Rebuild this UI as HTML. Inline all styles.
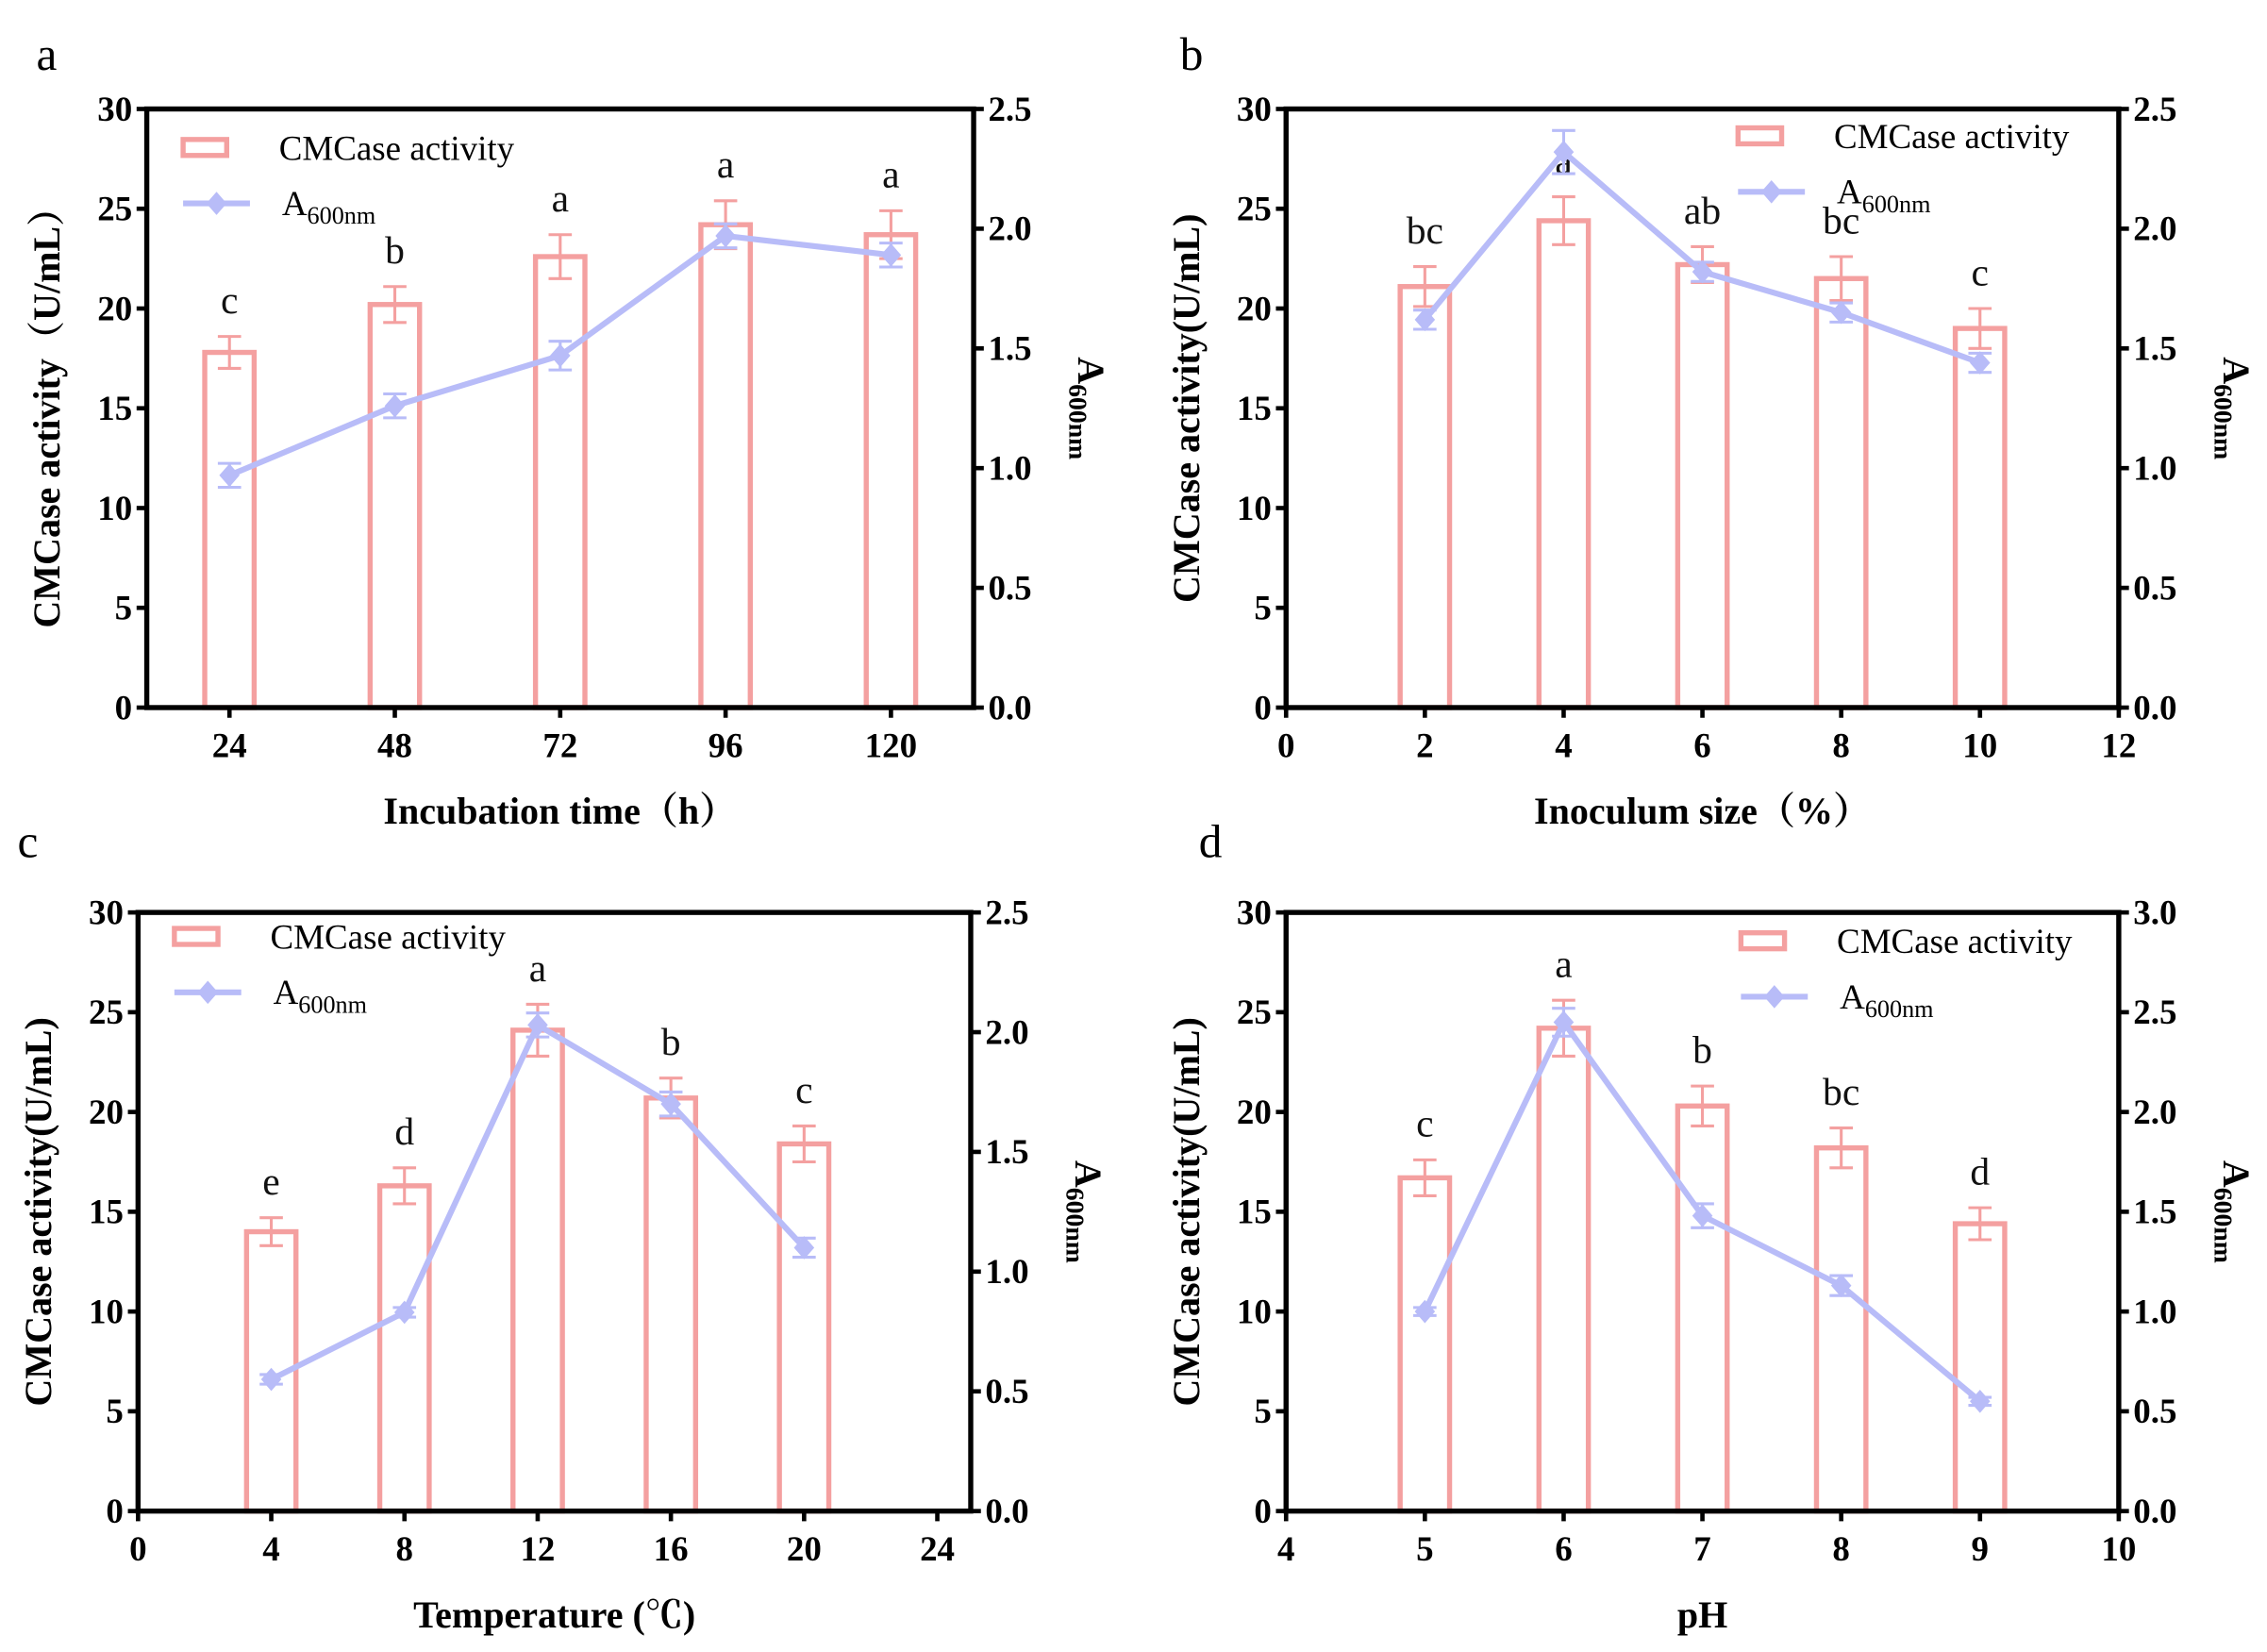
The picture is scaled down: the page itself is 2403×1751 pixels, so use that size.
<!DOCTYPE html>
<html><head><meta charset="utf-8"><style>
html,body{margin:0;padding:0;background:#fff;}
svg{display:block;font-family:"Liberation Serif","Noto Serif CJK SC",serif;}
</style></head><body>
<svg id="fig" width="2403" height="1751" viewBox="0 0 1560 1137" preserveAspectRatio="none" xmlns="http://www.w3.org/2000/svg"></svg>
<script>
// Panel a
const catsA = [24, 48, 72, 96, 120];
const barsA = [17.8, 20.2, 22.6, 24.2, 23.7];
const barErrA = [0.8, 0.9, 1.1, 1.2, 1.2];
const lineA = [0.97, 1.26, 1.47, 1.97, 1.89];
const lineErrA = [0.05, 0.05, 0.06, 0.05, 0.05];
const letA = ['c','b','a','a','a'];
// Panel b
const catsB = [2, 4, 6, 8, 10];
const barsB = [21.1, 24.4, 22.2, 21.5, 19.0];
const barErrB = [1.0, 1.2, 0.9, 1.1, 1.0];
const lineB = [1.62, 2.32, 1.82, 1.65, 1.44];
const lineErrB = [0.04, 0.09, 0.04, 0.04, 0.04];
const letB = ['bc','a','ab','bc','c'];
// Panel c
const catsC = [4, 8, 12, 16, 20];
const barsC = [14.0, 16.3, 24.1, 20.7, 18.4];
const barErrC = [0.7, 0.9, 1.3, 1.0, 0.9];
const lineC = [0.55, 0.83, 2.03, 1.70, 1.10];
const lineErrC = [0.02, 0.02, 0.05, 0.05, 0.04];
const letC = ['e','d','a','b','c'];
// Panel d
const catsD = [5, 6, 7, 8, 9];
const barsD = [16.7, 24.2, 20.3, 18.2, 14.4];
const barErrD = [0.9, 1.4, 1.0, 1.0, 0.8];
const lineD = [1.00, 2.45, 1.48, 1.13, 0.55];
const lineErrD = [0.02, 0.07, 0.06, 0.05, 0.02];
const letD = ['c','a','b','bc','d'];
const xTicksB = [0,2,4,6,8,10,12];
const xTicksC = [0,4,8,12,16,20,24];
const xTicksD = [4,5,6,7,8,9,10];
const yTicks = [0,5,10,15,20,25,30];
const rTicks25 = [0.0,0.5,1.0,1.5,2.0,2.5];
const rTicks30 = [0.0,0.5,1.0,1.5,2.0,2.5,3.0];

const NS='http://www.w3.org/2000/svg';
const svg=document.getElementById('fig');
function mk(tag,attrs,parent,txt){const e=document.createElementNS(NS,tag);for(const k in attrs)e.setAttribute(k,attrs[k]);if(txt!==undefined)e.textContent=txt;(parent||svg).appendChild(e);return e;}
const PINK='#f4a0a0', BLUE='#b8bcf8';

function panel(o){
  const g=mk('g',{});
  
  
  const {L,R,T,B}=o;
  const y=v=>B-(v/30)*(B-T);
  const yr=v=>B-(v/o.rmax)*(B-T);
  const x=o.xfun;
  o.bars.forEach((v,i)=>{
    const cx=x(o.cats[i]);
    const b=mk('rect',{x:cx-17,y:y(v),width:34,height:B-y(v),fill:'none',stroke:PINK,'stroke-width':3.5},g);
    
    
    const e=o.berr[i];
    const eb=mk('path',{d:`M${cx},${y(v+e)}V${y(v-e)}M${cx-8},${y(v+e)}H${cx+8}M${cx-8},${y(v-e)}H${cx+8}`,stroke:PINK,'stroke-width':2,fill:'none'},g);
    
    
    const lt=mk('text',{x:cx,y:y(v+e)-16,'text-anchor':'middle','font-size':27,fill:'#111'},g,o.lets[i]);
    
    
  });
  const pts=o.line.map((v,i)=>[x(o.cats[i]),yr(v)]);
  const pl=mk('polyline',{points:pts.map(p=>p.join(',')).join(' '),fill:'none',stroke:BLUE,'stroke-width':4},g);
  
  
  o.line.forEach((v,i)=>{
    const [px,py]=pts[i];const e=o.lerr[i];
    const le=mk('path',{d:`M${px},${yr(v+e)}V${yr(v-e)}M${px-8},${yr(v+e)}H${px+8}M${px-8},${yr(v-e)}H${px+8}`,stroke:BLUE,'stroke-width':2,fill:'none'},g);
    
    
    const m=mk('path',{d:`M${px},${py-8}L${px+7},${py}L${px},${py+8}L${px-7},${py}Z`,fill:BLUE},g);
    
    
  });
  const fr=mk('rect',{x:L,y:T,width:R-L,height:B-T,fill:'none',stroke:'#000','stroke-width':3.5},g);
  
  
  yTicks.forEach(t=>{
    mk('line',{x1:L-7,x2:L,y1:y(t),y2:y(t),stroke:'#000','stroke-width':3},g);
    const tt=mk('text',{x:L-10,y:y(t)+8,'text-anchor':'end','font-size':24,'font-weight':'bold'},g,t);
    
    
  });
  o.rticks.forEach(t=>{
    mk('line',{x1:R,x2:R+7,y1:yr(t),y2:yr(t),stroke:'#000','stroke-width':3},g);
    const tt=mk('text',{x:R+10,y:yr(t)+8,'text-anchor':'start','font-size':24,'font-weight':'bold'},g,t.toFixed(1));
    
    
  });
  o.xticks.forEach(t=>{
    mk('line',{x1:x(t),x2:x(t),y1:B,y2:B+7,stroke:'#000','stroke-width':3},g);
    const tt=mk('text',{x:x(t),y:B+34,'text-anchor':'middle','font-size':24,'font-weight':'bold'},g,t);
    
    
  });
  const xt=mk('text',{x:(L+R)/2,y:B+80,'text-anchor':'middle','font-size':26,'font-weight':'bold'},g,o.xtitle);
  
  
  const yt=mk('text',{x:0,y:0,'text-anchor':'middle','font-size':26,'font-weight':'bold',transform:`translate(${L-60},${(T+B)/2}) rotate(-90)`},g,o.ytitle);
  
  
  const rt=mk('text',{x:0,y:0,'text-anchor':'middle','font-size':26,'font-weight':'bold',transform:`translate(${R+72},${(T+B)/2}) rotate(90)`},g);
  
  
  mk('tspan',{},rt,'A');mk('tspan',{'font-size':18,dy:6},rt,'600nm');
  const pl2=mk('text',{x:o.lx,y:o.ly,'font-size':32},g,o.id);
  
  
  const lg=mk('g',{},g);
  
  
  mk('rect',{x:o.gx,y:o.gy-6,width:30,height:11,fill:'none',stroke:PINK,'stroke-width':3.5},lg);
  mk('text',{x:o.gx+66,y:o.gy+8,'font-size':24},lg,'CMCase activity');
  mk('line',{x1:o.gx,x2:o.gx+46,y1:o.gy+38,y2:o.gy+38,stroke:BLUE,'stroke-width':4},lg);
  mk('path',{d:`M${o.gx+23},${o.gy+30}l7,8l-7,8l-7,-8Z`,fill:BLUE},lg);
  const lt2=mk('text',{x:o.gx+68,y:o.gy+46,'font-size':24},lg);
  mk('tspan',{},lt2,'A');mk('tspan',{'font-size':17,dy:6},lt2,'600nm');
}
const catPos=(L,R,cats)=>v=>{const i=cats.indexOf(v);const w=(R-L)/cats.length;return L+w*(i+0.5);};
const lin=(L,R,a,b)=>v=>L+(v-a)/(b-a)*(R-L);
panel({id:'a',L:101,R:670,T:75,B:487,xfun:catPos(101,670,catsA),cats:catsA,bars:barsA,berr:barErrA,line:lineA,lerr:lineErrA,lets:letA,xticks:catsA,rmax:2.5,rticks:rTicks25,xtitle:'Incubation time（h）',ytitle:'CMCase activity（U/mL）',lx:25,ly:48,gx:126,gy:102});
panel({id:'b',L:885,R:1458,T:75,B:487,xfun:lin(885,1458,0,12),cats:catsB,bars:barsB,berr:barErrB,line:lineB,lerr:lineErrB,lets:letB,xticks:xTicksB,rmax:2.5,rticks:rTicks25,xtitle:'Inoculum size（%）',ytitle:'CMCase activity(U/mL)',lx:812,ly:48,gx:1196,gy:94});
panel({id:'c',L:95,R:668,T:628,B:1040,xfun:lin(95,645,0,24),cats:catsC,bars:barsC,berr:barErrC,line:lineC,lerr:lineErrC,lets:letC,xticks:xTicksC,rmax:2.5,rticks:rTicks25,xtitle:'Temperature (℃)',ytitle:'CMCase activity(U/mL)',lx:12,ly:590,gx:120,gy:645});
panel({id:'d',L:885,R:1458,T:628,B:1040,xfun:lin(885,1458,4,10),cats:catsD,bars:barsD,berr:barErrD,line:lineD,lerr:lineErrD,lets:letD,xticks:xTicksD,rmax:3.0,rticks:rTicks30,xtitle:'pH',ytitle:'CMCase activity(U/mL)',lx:825,ly:590,gx:1198,gy:648});
</script>
</body></html>
